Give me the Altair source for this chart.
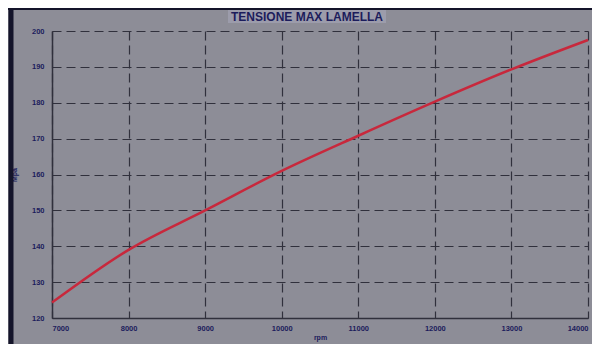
import altair as alt
import pandas as pd

rpm = [7000, 8000, 9000, 10000, 11000, 12000, 13000, 14000]
mpa = [124.3, 139.0, 150.0, 161.0, 170.8, 180.3, 189.3, 197.5]
title_text = ["TENSIONE MAX LAMELLA"]

df = pd.DataFrame({"rpm": rpm, "mpa": mpa})
tdf = pd.DataFrame({"t": title_text})

BG = "#8d8d97"
NAVY = "#1c1c5c"
GRID = "#30303c"
FONT = "Liberation Sans"

x = alt.X("rpm:Q", title="rpm",
          scale=alt.Scale(domain=[7000, 14000], nice=False),
          axis=alt.Axis(values=list(range(7000, 14001, 1000)), format="d",
                        labelFontSize=7.5, labelFontWeight="bold", labelColor=NAVY,
                        labelPadding=6, tickSize=0, domainColor=GRID, domainWidth=1.5,
                        gridColor=GRID, gridDash=[9, 5], gridWidth=1.2,
                        titleFontSize=7, titleColor=NAVY, titleFontWeight="bold",
                        titlePadding=2))
y = alt.Y("mpa:Q", title="Mpa",
          scale=alt.Scale(domain=[120, 200], nice=False),
          axis=alt.Axis(values=list(range(120, 201, 10)),
                        labelFontSize=7.5, labelFontWeight="bold", labelColor=NAVY,
                        labelPadding=8, tickSize=0, domainColor=GRID, domainWidth=1.5,
                        gridColor=GRID, gridDash=[9, 5], gridWidth=1.2,
                        titleFontSize=7, titleColor=NAVY, titleFontWeight="bold",
                        titlePadding=14))

line = alt.Chart(df).mark_line(color="#c8283c", strokeWidth=2.5,
                               interpolate="monotone").encode(x=x, y=y)

top_border = alt.Chart(tdf).mark_rule(color="#14142a", strokeWidth=2, clip=False).encode(
    x=alt.value(-44), x2=alt.value(545), y=alt.value(-22))
left_border = alt.Chart(tdf).mark_rule(color="#14142a", strokeWidth=5, clip=False).encode(
    x=alt.value(-41), y=alt.value(-22), y2=alt.value(313))

title_box = alt.Chart(tdf).mark_rect(color="#9c9cab", clip=False).encode(
    x=alt.value(176), x2=alt.value(334), y=alt.value(-21), y2=alt.value(-8))
title = alt.Chart(tdf).mark_text(font=FONT, fontSize=12, fontWeight="bold",
                                 color=NAVY, align="center", baseline="middle",
                                 clip=False).encode(
    text="t:N", x=alt.value(255), y=alt.value(-14))

chart = alt.layer(line, top_border, left_border, title_box, title).properties(
    width=536, height=287,
    autosize=alt.AutoSizeParams(type="none"),
    padding={"left": 44, "top": 23, "right": 4, "bottom": 26},
    background=BG,
).configure_view(stroke=None, fill=BG).configure_axis(
    labelFont=FONT, titleFont=FONT)

chart.save("out.html", embed_options={"renderer": "svg", "actions": False})
